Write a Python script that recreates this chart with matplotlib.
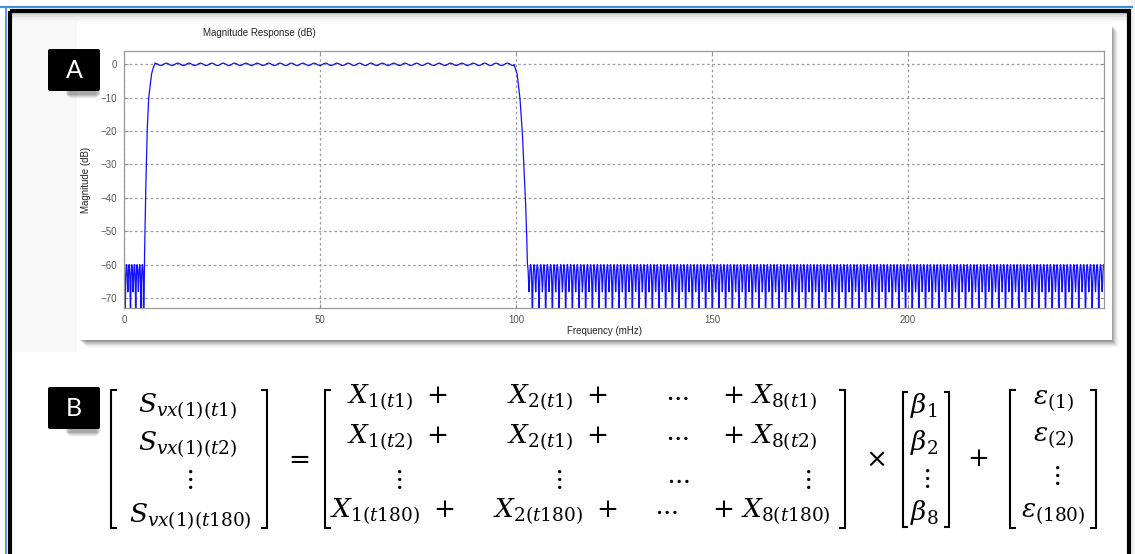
import numpy as np
import matplotlib
matplotlib.use("Agg")
import matplotlib.pyplot as plt
from matplotlib.patches import Rectangle, FancyBboxPatch

plt.rcParams['mathtext.fontset'] = 'dejavuserif'
plt.rcParams['font.family'] = ['Liberation Sans', 'DejaVu Sans']

W, H = 1135, 554

# ---------------- data ----------------
x_ticks = [0, 50, 100, 150, 200]
y_ticks = [0, -10, -20, -30, -40, -50, -60, -70]
x_limits = [0, 250]
y_limits = [-73, 4]

stop_level_db = -60.0          # stopband peak level
stop_dip_db = -68.0            # level of the shallow dips between deep nulls
stop1_band = [0.0, 4.95]       # lower stopband (mHz)
stop1_first_null = 0.3
stop1_null_spacing = 1.35
stop2_band = [102.9, 250.0]    # upper stopband (mHz)
stop2_null_spacing = 1.7
pass_band = [7.9, 99.5]        # passband (mHz)
pass_ripple_db = 0.35
pass_period = 2.9

trans_left_f = [4.95, 5.2, 5.5, 5.9, 6.3, 7.0, 7.5, 7.9]
trans_left_db = [-90, -60, -40, -20, -10, -3, -0.8, 0]
trans_right_f = [99.5, 100.3, 101.0, 101.6, 102.0, 102.4, 102.7, 102.9]
trans_right_db = [0, -3, -10, -20, -30, -40, -50, -60]


def stop_lobes(u):
    """deep null at integer u, two -60 dB peaks and one shallow dip in between"""
    e = 10 ** ((stop_dip_db - stop_level_db) / 20)
    g = np.sqrt(np.sin(2 * np.pi * u) ** 2 + (e * np.sin(np.pi * u) ** 2) ** 2)
    g = g / np.sqrt(1 + (e * 0.5) ** 2)
    return stop_level_db + 20 * np.log10(g + 1e-5)


# ---------------- build the response curve ----------------
freq = np.linspace(x_limits[0], x_limits[1], 8192)
mag = np.full_like(freq, np.nan)
m = freq <= stop1_band[1]
mag[m] = stop_lobes((freq[m] - stop1_first_null) / stop1_null_spacing)
m = (freq > trans_left_f[0]) & (freq < pass_band[0])
mag[m] = np.interp(freq[m], trans_left_f, trans_left_db)
m = (freq >= pass_band[0]) & (freq <= pass_band[1])
mag[m] = pass_ripple_db * np.cos(2 * np.pi * (freq[m] - pass_band[0]) / pass_period)
m = (freq > pass_band[1]) & (freq < stop2_band[0])
mag[m] = np.interp(freq[m], trans_right_f, trans_right_db)
m = freq >= stop2_band[0]
mag[m] = stop_lobes((freq[m] - stop2_band[0]) / stop2_null_spacing + 0.25)

fig = plt.figure(figsize=(W / 100, H / 100), dpi=100)
fig.patch.set_facecolor('white')

# background axes in pixel coordinates
bg = fig.add_axes([0, 0, 1, 1], zorder=0)
bg.set_xlim(0, W)
bg.set_ylim(H, 0)
bg.axis('off')

# outer frame
bg.add_patch(Rectangle((1131, 0), 10, H, facecolor='#f2f2f2', edgecolor='none'))
bg.plot([0, 1133], [7, 7], color='#3d8fe0', lw=1.6, solid_capstyle='butt')
bg.plot([6, 6], [7, H], color='#3d8fe0', lw=1.2, solid_capstyle='butt')
for i, a in enumerate([0.18, 0.12, 0.07, 0.04, 0.02]):
    bg.add_patch(Rectangle((12, 13 + i * 2), 1115, 2, facecolor='black', alpha=a, edgecolor='none'))
bg.add_patch(Rectangle((10, 11), 1119, H + 10, facecolor='none', edgecolor='black', lw=3.0))
bg.add_patch(Rectangle((13, 22), 64, 330, facecolor='#f8f8f8', edgecolor='none'))

# card with shadow for panel A
for i, a in enumerate([0.10, 0.10, 0.09, 0.08, 0.06, 0.04, 0.03, 0.02]):
    bg.add_patch(Rectangle((80 + i, 25 + i), 1032, 316, facecolor='black', alpha=a, edgecolor='none'))
bg.add_patch(Rectangle((78, 22), 1034, 318, facecolor='white', edgecolor='none'))

# label boxes
for (x0, y0, lab) in [(48, 49, 'A'), (48, 387, 'B')]:
    for i, a in enumerate([0.12, 0.10, 0.08, 0.05, 0.03]):
        bg.add_patch(Rectangle((x0 + 18 + i, y0 + 6 + i), 34 - 2 * i, 40, facecolor='black', alpha=a, edgecolor='none'))
    bg.add_patch(FancyBboxPatch((x0, y0), 52, 42, boxstyle='round,pad=0,rounding_size=2',
                                facecolor='black', edgecolor='none'))
    bg.text(x0 + 26, y0 + 22, lab, color='white', fontsize=18, ha='center', va='center',
            family=['Lato', 'DejaVu Sans'])

bg.text(259, 33, 'Magnitude Response (dB)', fontsize=7, ha='center', va='center', color='#222222')

# ---------------- panel A plot ----------------
ax = fig.add_axes([124 / W, 1 - 308 / H, 980 / W, 257 / H], zorder=2)
ax.plot(freq, mag, color='#1010ff', lw=0.9)
ax.set_xlim(x_limits)
ax.set_ylim(y_limits)
ax.set_xticks(x_ticks)
ax.set_yticks(y_ticks)
ax.tick_params(direction='in', length=3, width=0.6, colors='#888888', labelcolor='#555555',
               labelsize=7, pad=5)
ax.tick_params(top=True, right=True)
for s in ax.spines.values():
    s.set_color('#9a9a9a')
    s.set_linewidth(0.9)
ax.grid(True, color='#9a9a9a', lw=0.9, linestyle=(0, (2, 2.2)))
ax.set_xlabel('Frequency (mHz)', fontsize=7, color='#222222')
ax.set_ylabel('Magnitude (dB)', fontsize=7, color='#222222')
ax.xaxis.set_label_coords(0.49, -0.07)
ax.yaxis.set_label_coords(-0.034, 0.5)

# ---------------- panel B equation ----------------
fs = 19
def put(x, y, s, ha='left', va='baseline'):
    bg.text(x, y, s, fontsize=fs, ha=ha, va=va, color='black')

def bracket(xl, xr, top, bot, tick=6):
    kw = dict(color='black', lw=1.5, solid_joinstyle='miter', solid_capstyle='butt')
    bg.plot([xl + tick, xl, xl, xl + tick], [top, top, bot, bot], **kw)
    bg.plot([xr - tick, xr, xr, xr - tick], [top, top, bot, bot], **kw)

bracket(111, 267, 390, 528)
put(188, 412, r'$S_{vx(1)(t1)}$', ha='center')
put(188, 450, r'$S_{vx(1)(t2)}$', ha='center')
put(188, 479, r'$\vdots$', ha='center', va='center')
put(190, 522, r'$S_{vx(1)(t180)}$', ha='center')

put(296, 459, r'$=$', ha='center', va='center')

bracket(325, 845, 390, 528)
put(347, 403, r'$X_{1(t1)}\ +$')
put(507, 403, r'$X_{2(t1)}\ +$')
put(677, 397, r'$\cdots$', ha='center', va='center')
put(722, 403, r'$+\ X_{8(t1)}$')
put(347, 443, r'$X_{1(t2)}\ +$')
put(507, 443, r'$X_{2(t1)}\ +$')
put(677, 437, r'$\cdots$', ha='center', va='center')
put(722, 443, r'$+\ X_{8(t2)}$')
put(397, 479, r'$\vdots$', ha='center', va='center')
put(557, 479, r'$\vdots$', ha='center', va='center')
put(678, 480, r'$\cdots$', ha='center', va='center')
put(806, 479, r'$\vdots$', ha='center', va='center')
put(330, 517, r'$X_{1(t180)}\ +$')
put(493, 517, r'$X_{2(t180)}\ +$')
put(666, 511, r'$\cdots$', ha='center', va='center')
put(712, 517, r'$+\ X_{8(t180)}$')

put(875, 460, r'$\times$', ha='center', va='center')

bracket(903, 949, 392, 527, tick=5)
put(924, 413, r'$\beta_1$', ha='center')
put(924, 450, r'$\beta_2$', ha='center')
put(925, 478, r'$\vdots$', ha='center', va='center')
put(924, 520, r'$\beta_8$', ha='center')

put(978, 459, r'$+$', ha='center', va='center')

bracket(1010, 1096, 390, 528)
put(1053, 404, r'$\varepsilon_{(1)}$', ha='center')
put(1053, 441, r'$\varepsilon_{(2)}$', ha='center')
put(1055, 475, r'$\vdots$', ha='center', va='center')
put(1053, 517, r'$\varepsilon_{(180)}$', ha='center')

fig.savefig('out.png', dpi=100)
